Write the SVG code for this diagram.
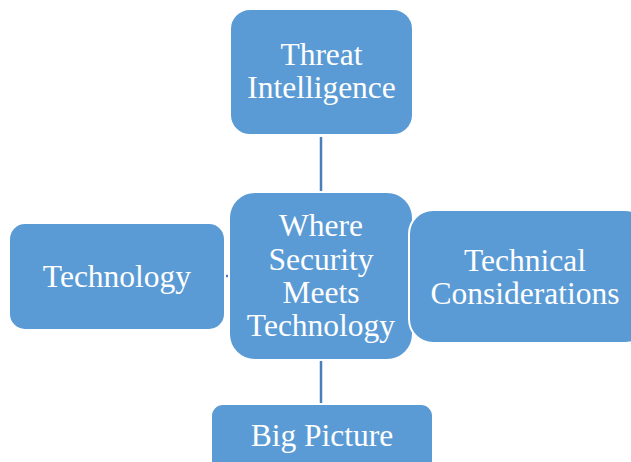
<svg xmlns="http://www.w3.org/2000/svg" width="631" height="462" viewBox="0 0 631 462">
<style>
.box{fill:#5B9BD5;stroke:#FFFFFF;stroke-width:2}
.lbl{font-family:"Liberation Serif","Times New Roman",serif;font-size:31.5px;fill:#FFFFFF;text-anchor:middle}
.conn{stroke:#4A7EBB;stroke-width:2.5;fill:none}
</style>
<rect width="631" height="462" fill="#FFFFFF"/>
<g id="connectors">
<line class="conn" x1="321" y1="137" x2="321" y2="192"/>
<line class="conn" x1="321" y1="360" x2="321" y2="403"/>
<line class="conn" x1="226" y1="276" x2="229" y2="276" stroke-width="1.5"/>
</g>
<g id="threat">
<rect class="box" x="230" y="9" width="183" height="126" rx="20"/>
<text class="lbl" x="321.5" y="65">Threat</text>
<text class="lbl" x="321.5" y="98">Intelligence</text>
</g>
<g id="technology">
<rect class="box" x="9" y="223" width="216" height="107" rx="16"/>
<text class="lbl" x="117" y="287">Technology</text>
</g>
<g id="center">
<rect class="box" x="229" y="192" width="184" height="168" rx="26"/>
<text class="lbl" x="321" y="236">Where</text>
<text class="lbl" x="321" y="270">Security</text>
<text class="lbl" x="321" y="303">Meets</text>
<text class="lbl" x="321" y="336">Technology</text>
</g>
<g id="technical">
<rect class="box" x="409" y="210" width="240" height="133" rx="24"/>
<text class="lbl" x="525" y="271">Technical</text>
<text class="lbl" x="525" y="304">Considerations</text>
</g>
<g id="bigpicture">
<rect class="box" x="211" y="404" width="222" height="70" rx="12"/>
<text class="lbl" x="322" y="446">Big Picture</text>
</g>
</svg>
